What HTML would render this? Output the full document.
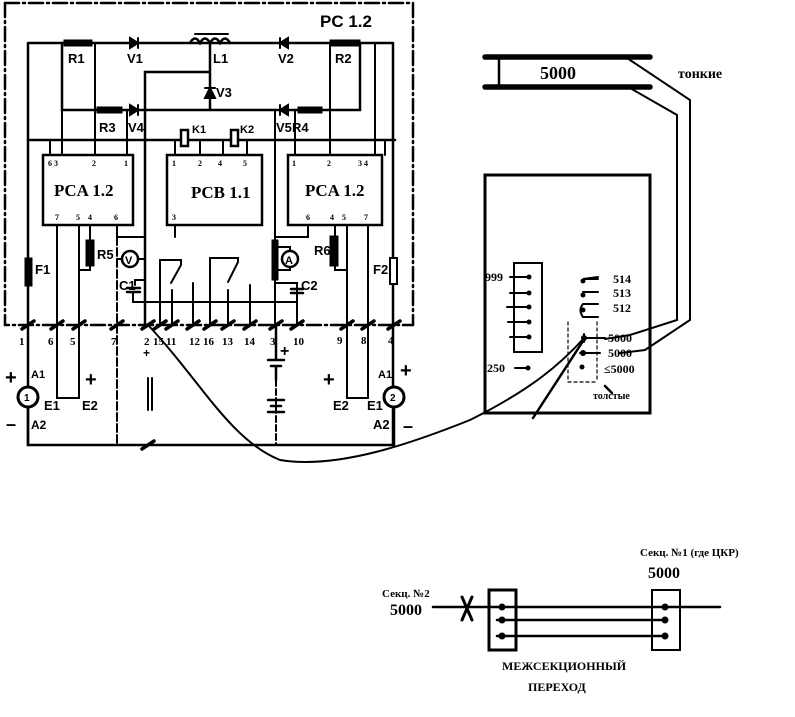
<!DOCTYPE html>
<html><head><meta charset="utf-8"><style>
html,body{margin:0;padding:0;background:#fff;}
svg{display:block;}
text{font-family:"Liberation Sans",sans-serif;fill:#000;}
.s text{font-family:"Liberation Serif",serif;font-weight:bold;}
</style></head><body>
<svg width="795" height="717" viewBox="0 0 795 717" xmlns="http://www.w3.org/2000/svg">
<g stroke="#000" fill="none" stroke-linecap="round">
<path d="M5,3 H413 V325" stroke-width="2.5" stroke-dasharray="14,4,2,4"/>
<path d="M5,3 V325 H413" stroke-width="2.5" stroke-dasharray="14,4,2,4"/>
<path d="M28,43 H393 M28,43 V445 M393,43 V445" stroke-width="2.5"/>
<path d="M62,43 V110 H360 V43" stroke-width="2.5"/>
<rect x="64" y="40" width="28" height="6" fill="#000"/>
<rect x="330" y="40" width="30" height="6" fill="#000"/>
<rect x="97" y="107" width="25" height="6" fill="#000"/>
<rect x="298" y="107" width="24" height="6" fill="#000"/>
<path d="M130,38 L138,43 L130,48 Z M138,38 V48" fill="#000" stroke-width="2"/>
<path d="M288,38 L280,43 L288,48 Z M280,38 V48" fill="#000" stroke-width="2"/>
<path d="M130,105 L138,110 L130,115 Z M138,105 V115" fill="#000" stroke-width="2"/>
<path d="M288,105 L280,110 L288,115 Z M280,105 V115" fill="#000" stroke-width="2"/>
<path d="M205,98 L210,88 L215,98 Z M205,88 H215" fill="#000" stroke-width="2"/>
<path d="M190,43 q5,-9 10,0 q5,-9 10,0 q5,-9 10,0 q5,-9 10,0" stroke-width="2.5"/>
<path d="M195,34 H228" stroke-width="2"/>
<path d="M210,43 V110 M210,72 H145 V325" stroke-width="2.5"/>
<path d="M95,43 V155 M127,110 V155 M330,43 V155 M375,43 V155 M295,110 V155 M275,110 V325" stroke-width="2"/>
<path d="M28,140 H395" stroke-width="2.5"/>
<path d="M50,140 V155 M62,110 V155 M385,140 V155 M175,140 V155 M247,140 V155" stroke-width="2"/>
<rect x="181" y="130" width="7" height="16" fill="#fff" stroke-width="2.5"/>
<rect x="231" y="130" width="7" height="16" fill="#fff" stroke-width="2.5"/>
<path d="M188,140 H200 V155 M231,140 H223 V155" stroke-width="2"/>
<rect x="43" y="155" width="90" height="70" stroke-width="2.5"/>
<rect x="167" y="155" width="95" height="70" stroke-width="2.5"/>
<rect x="288" y="155" width="94" height="70" stroke-width="2.5"/>
<path d="M57,225 V325 M79,225 V325 M90,225 V270 H79 M117,225 V237 H145 M175,225 V237 M308,225 V237 H275 M335,225 V270 H347 M347,225 V325 M368,225 V325" stroke-width="2"/>
<rect x="86" y="240" width="8" height="26" fill="#000"/>
<rect x="330" y="236" width="8" height="30" fill="#000"/>
<rect x="25" y="258" width="7" height="28" fill="#000"/>
<rect x="390" y="258" width="7" height="26" fill="#fff" stroke-width="2"/>
<path d="M117,237 V445" stroke-width="2" stroke-dasharray="8,3"/>
<circle cx="130" cy="259" r="8" fill="#fff" stroke-width="2.5"/>
<path d="M117,259 H122 M138,259 H145" stroke-width="2"/>
<circle cx="290" cy="259" r="8" fill="#fff" stroke-width="2.5"/>
<path d="M275,247 H290 V251 M275,270 H290 V267" stroke-width="2"/>
<rect x="272" y="240" width="6" height="40" fill="#000"/>
<path d="M133,293 V302 H297 V292 M135,285 V280 H145 M297,292 V283 H275" stroke-width="2"/>
<path d="M127,288 H140 M127,292 H140 M291,289 H303 M291,293 H303" stroke-width="2.5"/>
<path d="M160,325 V260 H181 V265 L171,283 M172,325 V290 M193,325 V283 M210,325 V258 H238 V262 L228,282 M228,325 V290 M250,325 V285" stroke-width="2"/>
<path d="M145,302 V325 M297,302 V325" stroke-width="2"/>
<path d="M22,329 L34,321 M51,329 L63,321 M73,329 L85,321 M111,329 L123,321 M142,329 L154,321 M154,329 L166,321 M166,329 L178,321 M187,329 L199,321 M204,329 L216,321 M222,329 L234,321 M244,329 L256,321 M270,329 L282,321 M291,329 L303,321 M341,329 L353,321 M362,329 L374,321 M388,329 L400,321" stroke-width="3.5"/>
<path d="M276,325 V360 M268,360 H284 M271,366 H281 M276,366 V380" stroke-width="2.5"/>
<path d="M276,380 V445" stroke-width="2" stroke-dasharray="6,3"/>
<path d="M268,400 H284 M271,406 H281 M268,412 H284" stroke-width="2.5"/>
<path d="M148,378 V410 M152,378 V410" stroke-width="2"/>
<path d="M57,325 V398 H79 V325 M347,325 V398 H368 V325" stroke-width="2"/>
<circle cx="28" cy="397" r="10" fill="#fff" stroke-width="3"/>
<circle cx="394" cy="397" r="10" fill="#fff" stroke-width="3"/>
<path d="M28,407 V445 H394 V407" stroke-width="2.5"/>
<path d="M142,449 L154,441" stroke-width="3.5"/>
<path d="M148,325 C200,380 230,440 280,460 C340,470 420,440 470,420 C530,390 560,365 585,337" stroke-width="2"/>
<path d="M485,57 H650 M485,87 H650" stroke-width="5.5"/>
<path d="M499,57 V87" stroke-width="2.5"/>
<path d="M627,58 L690,100 V320 L645,350 L620,353 M630,88 L677,115 V320 L630,335 L605,339" stroke-width="2"/>
<rect x="485" y="175" width="165" height="238" stroke-width="3"/>
<rect x="514" y="263" width="28" height="89" stroke-width="2"/>
<path d="M510,277 H529 M510,293 H529 M507,307 H529 M508,322 H529 M510,337 H529 M515,368 H528" stroke-width="2"/>
<path d="M568,322 V382 H597 M597,322 V382" stroke-width="1.2" stroke-dasharray="3,3"/>
<path d="M598,277 L583,279 H598 M598,292 H583 M598,304 H583 Q578,310 583,317 H598" stroke-width="2"/>
<path d="M584,338 H605 M580,353 H600 M584,334 V342" stroke-width="2"/>
<path d="M533,418 L585,338" stroke-width="2.5"/>
<path d="M612,393 L605,386" stroke-width="2.5"/>
<path d="M433,607 H720 M497,620 H665 M497,636 H665" stroke-width="2.5"/>
<rect x="489" y="590" width="27" height="60" stroke-width="3"/>
<rect x="652" y="590" width="28" height="60" stroke-width="2"/>
<path d="M462,597 L472,620 M472,597 L462,620" stroke-width="3"/>
</g>
<g fill="#000">
<circle cx="584" cy="338" r="3"/><circle cx="583" cy="353" r="3"/><circle cx="582" cy="367" r="2.5"/>
<circle cx="529" cy="277" r="2.5"/><circle cx="529" cy="293" r="2.5"/><circle cx="529" cy="307" r="2.5"/><circle cx="529" cy="322" r="2.5"/><circle cx="529" cy="337" r="2.5"/><circle cx="528" cy="368" r="2.5"/>
<circle cx="583" cy="281" r="2.5"/><circle cx="583" cy="295" r="2.5"/><circle cx="583" cy="310" r="2.5"/>
<circle cx="502" cy="607" r="3.5"/><circle cx="502" cy="620" r="3.5"/><circle cx="502" cy="636" r="3.5"/>
<circle cx="665" cy="607" r="3.5"/><circle cx="665" cy="620" r="3.5"/><circle cx="665" cy="636" r="3.5"/>
</g>
<g font-size="13" font-weight="bold">
<text x="320" y="27" font-size="17">PC 1.2</text>
<text x="68" y="63">R1</text><text x="127" y="63">V1</text><text x="213" y="63">L1</text><text x="278" y="63">V2</text><text x="335" y="63">R2</text>
<text x="216" y="97">V3</text>
<text x="99" y="132">R3</text><text x="128" y="132">V4</text><text x="276" y="132">V5</text><text x="292" y="132">R4</text>
<text x="192" y="133" font-size="11">K1</text><text x="240" y="133" font-size="11">K2</text>
<text x="35" y="274">F1</text><text x="97" y="259">R5</text><text x="314" y="255">R6</text><text x="373" y="274">F2</text>
<text x="119" y="290">C1</text><text x="301" y="290">C2</text>
<text x="125" y="264" font-size="11">V</text><text x="285" y="264" font-size="11">A</text>
<text x="31" y="378" font-size="11">A1</text><text x="31" y="429" font-size="12">A2</text>
<text x="44" y="410">E1</text><text x="82" y="410">E2</text>
<text x="333" y="410">E2</text><text x="367" y="410">E1</text>
<text x="378" y="378" font-size="11">A1</text><text x="373" y="429">A2</text>
<text x="24" y="401" font-size="10">1</text><text x="390" y="401" font-size="10">2</text>
<text x="5" y="384" font-size="20">+</text><text x="85" y="386" font-size="20">+</text><text x="323" y="386" font-size="20">+</text><text x="400" y="377" font-size="20">+</text>
<text x="6" y="430" font-size="18">–</text><text x="403" y="432" font-size="18">–</text>
<text x="143" y="357" font-size="12">+</text><text x="280" y="356" font-size="16">+</text>
</g>
<g class="s" font-size="11">
<text x="19" y="345">1</text><text x="48" y="345">6</text><text x="70" y="345">5</text><text x="111" y="345">7</text><text x="144" y="345">2</text><text x="153" y="345">15</text><text x="166" y="345">11</text><text x="189" y="345">12</text><text x="203" y="345">16</text><text x="222" y="345">13</text><text x="244" y="345">14</text><text x="270" y="345">3</text><text x="293" y="345">10</text><text x="337" y="344">9</text><text x="361" y="344">8</text><text x="388" y="344">4</text>
<text x="48" y="166" font-size="8">6 3</text><text x="92" y="166" font-size="8">2</text><text x="124" y="166" font-size="8">1</text>
<text x="172" y="166" font-size="8">1</text><text x="198" y="166" font-size="8">2</text><text x="218" y="166" font-size="8">4</text><text x="243" y="166" font-size="8">5</text>
<text x="292" y="166" font-size="8">1</text><text x="327" y="166" font-size="8">2</text><text x="358" y="166" font-size="8">3 4</text>
<text x="55" y="220" font-size="8">7</text><text x="76" y="220" font-size="8">5</text><text x="88" y="220" font-size="8">4</text><text x="114" y="220" font-size="8">6</text><text x="172" y="220" font-size="8">3</text>
<text x="306" y="220" font-size="8">6</text><text x="330" y="220" font-size="8">4</text><text x="342" y="220" font-size="8">5</text><text x="364" y="220" font-size="8">7</text>
<text x="54" y="196" font-size="17">PCA 1.2</text><text x="191" y="198" font-size="17">PCB 1.1</text><text x="305" y="196" font-size="17">PCA 1.2</text>
<text x="540" y="79" font-size="18">5000</text>
<text x="485" y="281" font-size="12">999</text><text x="487" y="372" font-size="12">250</text>
<text x="613" y="283" font-size="12">514</text><text x="613" y="297" font-size="12">513</text><text x="613" y="312" font-size="12">512</text>
<text x="608" y="342" font-size="12">5000</text><text x="608" y="357" font-size="12">5000</text><text x="604" y="373" font-size="12">≤5000</text>
<text x="593" y="399" font-size="10">толстые</text>
<text x="678" y="78" font-size="14" font-weight="normal">тонкие</text>
<text x="382" y="597" font-size="11">Секц. №2</text><text x="390" y="615" font-size="16">5000</text>
<text x="640" y="556" font-size="11">Секц. №1 (где ЦКР)</text><text x="648" y="578" font-size="16">5000</text>
<text x="502" y="670" font-size="12">МЕЖСЕКЦИОННЫЙ</text><text x="528" y="691" font-size="12">ПЕРЕХОД</text>
</g>
</svg>
</body></html>
